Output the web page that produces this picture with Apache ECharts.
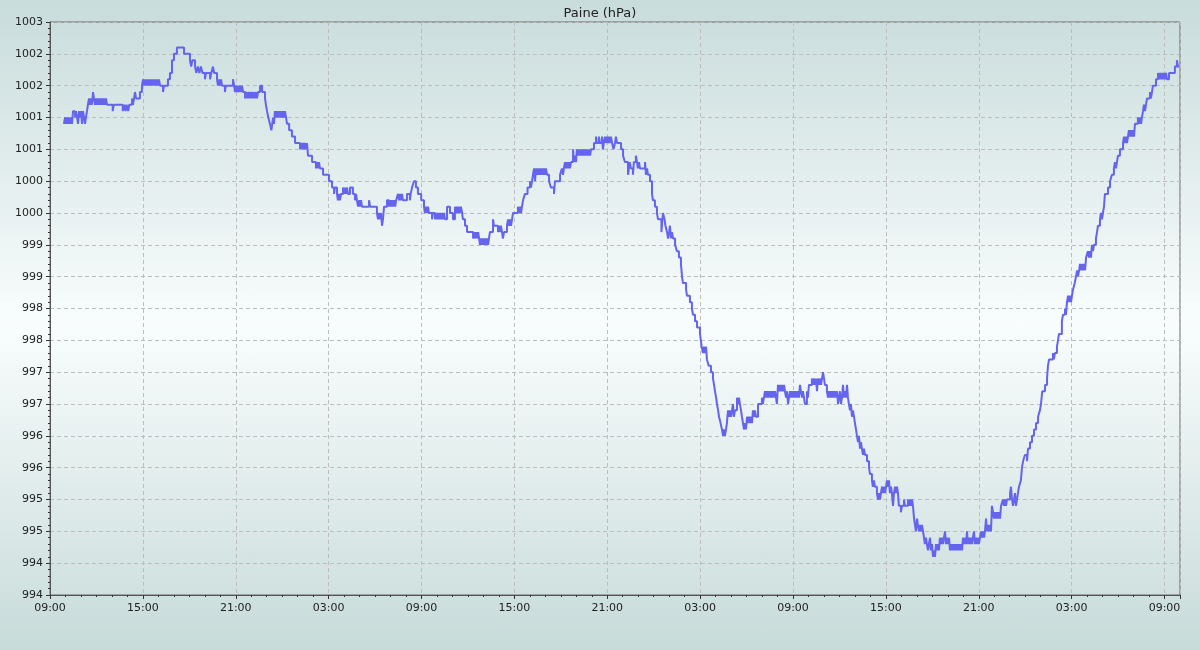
<!DOCTYPE html>
<html>
<head>
<meta charset="utf-8">
<script src="https://cdn.jsdelivr.net/npm/echarts@6/dist/echarts.min.js"></script>
<style>
html,body{margin:0;padding:0;}
body{background:linear-gradient(to bottom,#c8dcdb 0%,#f9fdfd 50%,#c7dbd9 100%);}
#chart{width:1200px;height:650px;}
</style>
</head>
<body>
<div id="chart"></div>
<script>
// Title and tick labels
const chartTitle = 'Paine (hPa)';
const xHourLabels = ['09:00','15:00','21:00','03:00','09:00','15:00','21:00','03:00','09:00','15:00','21:00','03:00','09:00'];

// Series values: [hours since first 09:00, pressure hPa]
const day1 = [
[0.90,1001.4],[0.97,1001.5],[1.03,1001.4],[1.10,1001.5],[1.16,1001.4],[1.23,1001.5],[1.30,1001.4],[1.36,1001.5],[1.42,1001.4],
[1.49,1001.6],[1.62,1001.5],[1.68,1001.6],[1.75,1001.5],[1.81,1001.4],[1.88,1001.6],[1.94,1001.5],[2.00,1001.6],[2.07,1001.4],[2.13,1001.6],[2.20,1001.5],[2.26,1001.4],[2.32,1001.5],
[2.39,1001.6],[2.45,1001.7],[2.52,1001.8],[2.58,1001.7],[2.65,1001.8],[2.71,1001.7],[2.78,1001.9],[2.84,1001.8],[2.91,1001.7],[2.97,1001.8],[3.04,1001.7],[3.10,1001.8],[3.17,1001.7],[3.23,1001.8],[3.30,1001.7],[3.36,1001.8],[3.42,1001.7],[3.49,1001.8],[3.55,1001.7],[3.62,1001.8],
[3.68,1001.7],[4.05,1001.6],[4.12,1001.7],[4.70,1001.6],[4.80,1001.7],[4.88,1001.6],[4.95,1001.7],[5.05,1001.6],[5.12,1001.7],
[5.30,1001.8],[5.36,1001.7],[5.43,1001.8],[5.49,1001.9],[5.56,1001.8],[5.81,1001.9],[5.94,1002.0],
[6.01,1002.1],[6.07,1002.0],[6.14,1002.1],[6.20,1002.0],[6.27,1002.1],[6.33,1002.0],[6.40,1002.1],[6.46,1002.0],[6.53,1002.1],[6.59,1002.0],[6.66,1002.1],[6.72,1002.0],[6.78,1002.1],[6.85,1002.0],[6.91,1002.1],[6.98,1002.0],[7.04,1002.1],[7.11,1002.0],[7.30,1001.9],[7.36,1002.0],
[7.62,1002.1],[7.75,1002.2],[7.88,1002.4],[8.01,1002.5],[8.20,1002.6],[8.66,1002.5],[9.04,1002.4],[9.12,1002.3],[9.20,1002.4],
[9.37,1002.3],[9.45,1002.2],[9.55,1002.3],[9.65,1002.2],[9.75,1002.3],[9.85,1002.2],[10.01,1002.1],[10.08,1002.2],[10.34,1002.1],[10.42,1002.2],[10.53,1002.3],[10.60,1002.2],
[10.79,1002.1],[10.85,1002.0],[10.92,1002.1],[10.98,1002.0],[11.05,1002.1],[11.11,1002.0],[11.30,1001.9],[11.36,1002.0],[11.82,1002.1],[11.90,1002.0],
[11.95,1001.9],[12.02,1002.0],[12.08,1001.9],[12.15,1002.0],[12.21,1001.9],[12.27,1002.0],[12.34,1001.9],[12.40,1002.0],[12.47,1001.9],
[12.60,1001.8],[12.66,1001.9],[12.73,1001.8],[12.79,1001.9],[12.86,1001.8],[12.92,1001.9],[12.99,1001.8],[13.05,1001.9],[13.12,1001.8],[13.18,1001.9],[13.24,1001.8],[13.31,1001.9],[13.37,1001.8],
[13.44,1001.9],[13.57,1002.0],[13.70,1001.9],[13.89,1001.8],[13.95,1001.7],[14.02,1001.6],[14.10,1001.5],[14.21,1001.4],[14.30,1001.3],[14.36,1001.4],[14.41,1001.5],[14.47,1001.4],
[14.53,1001.6],[14.60,1001.5],[14.66,1001.6],[14.73,1001.5],[14.79,1001.6],[14.86,1001.5],[14.92,1001.6],[14.99,1001.5],[15.05,1001.6],[15.12,1001.5],[15.18,1001.6],[15.25,1001.5]
];

const day2 = [
[15.31,1001.4],[15.45,1001.3],[15.63,1001.2],[15.83,1001.1],[16.15,1001.0],[16.22,1001.1],[16.28,1001.0],[16.35,1001.1],[16.41,1001.0],[16.48,1001.1],[16.54,1001.0],[16.60,1001.1],
[16.67,1000.9],[16.93,1000.8],[17.18,1000.7],[17.25,1000.8],[17.31,1000.7],[17.38,1000.8],[17.44,1000.7],
[17.64,1000.6],[18.02,1000.5],[18.22,1000.4],[18.35,1000.3],[18.41,1000.4],[18.54,1000.3],[18.60,1000.2],[18.67,1000.3],[18.73,1000.2],[18.80,1000.3],
[18.93,1000.4],[19.00,1000.3],[19.06,1000.4],[19.12,1000.3],[19.19,1000.4],[19.25,1000.3],[19.38,1000.4],[19.57,1000.3],[19.70,1000.2],[19.77,1000.3],[19.83,1000.2],
[19.90,1000.1],[19.97,1000.2],[20.03,1000.1],[20.09,1000.2],[20.16,1000.1],[20.61,1000.2],[20.68,1000.1],
[21.12,1000.0],[21.19,999.9],[21.25,1000.0],[21.32,999.9],[21.38,1000.0],[21.45,999.8],[21.51,999.9],
[21.58,1000.1],[21.77,1000.2],[21.90,1000.1],[21.97,1000.2],[22.03,1000.1],[22.10,1000.2],[22.16,1000.1],[22.23,1000.2],[22.30,1000.1],[22.36,1000.2],
[22.48,1000.3],[22.55,1000.2],[22.61,1000.3],[22.67,1000.2],[22.74,1000.3],[22.80,1000.2],[23.06,1000.3],[23.25,1000.2],[23.30,1000.3],
[23.39,1000.4],[23.51,1000.5],[23.64,1000.4],[23.77,1000.3],[23.98,1000.2],[24.16,1000.1],[24.22,1000.0],[24.29,1000.1],[24.35,1000.0],[24.42,1000.1],[24.48,1000.0],
[24.68,999.9],[24.74,1000.0],[24.87,999.9],[24.94,1000.0],[25.00,999.9],[25.06,1000.0],[25.13,999.9],[25.19,1000.0],[25.26,999.9],[25.32,1000.0],[25.39,999.9],[25.45,1000.0],[25.52,999.9],
[25.65,1000.1],[25.84,1000.0],[26.03,999.9],[26.16,1000.1],[26.23,1000.0],[26.29,1000.1],[26.36,1000.0],[26.42,1000.1],[26.49,1000.0],[26.55,1000.1],[26.62,1000.0],
[26.68,999.9],[26.81,999.8],[26.94,999.7],[27.33,999.6],[27.40,999.7],[27.46,999.6],[27.53,999.7],[27.59,999.6],[27.66,999.7],[27.72,999.6],
[27.78,999.5],[27.85,999.6],[27.91,999.5],[27.98,999.6],[28.04,999.5],[28.11,999.6],[28.17,999.5],[28.24,999.6],[28.30,999.5],
[28.42,999.7],[28.62,999.9],[28.68,999.8],[28.94,999.7],[29.00,999.8],[29.07,999.7],[29.13,999.8],[29.20,999.7],[29.26,999.6],[29.33,999.7],
[29.52,999.8],[29.59,999.9],[29.65,999.8],[29.72,999.9],[29.78,999.8],[29.85,999.9],
[29.91,1000.0],[30.23,1000.1],[30.30,1000.0],[30.36,1000.1],[30.43,1000.0],[30.49,1000.1],
[30.56,1000.2],[30.68,1000.3],[30.85,1000.4],[31.01,1000.5],[31.07,1000.4],[31.14,1000.5],[31.20,1000.6],
[31.27,1000.7],[31.33,1000.5],[31.40,1000.7],[31.46,1000.6],[31.52,1000.7],[31.59,1000.6],[31.65,1000.7],[31.72,1000.6],[31.78,1000.7],[31.85,1000.6],[31.91,1000.7],[31.98,1000.6],[32.04,1000.7],[32.11,1000.6],
[32.24,1000.5],[32.36,1000.4],[32.56,1000.3],[32.62,1000.5],[32.95,1000.6],
[33.07,1000.7],[33.14,1000.6],[33.20,1000.7],
[33.27,1000.8],[33.33,1000.7],[33.40,1000.8],[33.46,1000.7],[33.53,1000.8],[33.59,1000.7],[33.66,1000.8],
[33.79,1001.0],[33.85,1000.8],[33.92,1000.9],[33.98,1000.8],
[34.04,1001.0],[34.11,1000.9],[34.17,1001.0],[34.24,1000.9],[34.30,1001.0],[34.37,1000.9],[34.43,1001.0],[34.50,1000.9],[34.56,1001.0],[34.63,1000.9],[34.69,1001.0],[34.76,1000.9],[34.82,1001.0],[34.89,1000.9],[34.95,1001.0],
[35.14,1001.1],[35.27,1001.2],[35.33,1001.1],[35.46,1001.2],[35.53,1001.1],[35.66,1001.2],[35.72,1001.0],[35.78,1001.1],
[35.85,1001.2],[35.91,1001.1],[35.98,1001.2],[36.05,1001.1],[36.11,1001.2],[36.18,1001.1],[36.24,1001.2],[36.31,1001.1],
[36.40,1001.0],[36.50,1001.1],[36.56,1001.2],[36.63,1001.1],
[36.89,1001.0],[37.02,1000.9],[37.14,1000.8],[37.34,1000.6],[37.45,1000.8],[37.53,1000.7],[37.66,1000.6],[37.72,1000.8],[37.85,1000.9],[37.92,1000.8],[37.98,1000.7],[38.05,1000.8],[38.11,1000.7],
[38.44,1000.8],[38.50,1000.6],[38.57,1000.7],[38.63,1000.6],
[38.76,1000.5],[38.89,1000.3],[38.95,1000.2],[39.08,1000.1],[39.21,1000.0]
];

const day3 = [
[39.28,999.9],[39.50,999.7],[39.56,999.9],[39.60,1000.0],[39.70,999.9],[39.76,999.8],[39.86,999.7],[39.93,999.6],[40.00,999.7],[40.05,999.8],[40.12,999.6],[40.18,999.7],[40.25,999.6],
[40.38,999.5],[40.50,999.4],[40.63,999.3],[40.76,999.2],[40.83,999.0],[40.89,998.9],[41.09,998.8],[41.15,998.7],[41.34,998.6],[41.47,998.5],[41.54,998.4],[41.67,998.3],[41.80,998.2],[41.99,998.1],
[42.10,997.9],[42.18,997.8],[42.25,997.9],[42.31,997.8],[42.38,997.9],[42.44,997.7],[42.55,997.6],[42.70,997.5],[42.83,997.4],[42.90,997.3],[42.96,997.2],[43.03,997.1],[43.09,997.0],[43.16,996.9],[43.22,996.8],[43.32,996.7],[43.41,996.6],[43.48,996.5],[43.54,996.6],[43.60,996.5],[43.67,996.6],
[43.73,996.7],[43.80,996.9],[43.86,996.8],[43.93,996.9],[44.00,996.8],[44.06,996.9],[44.12,997.0],[44.18,996.8],[44.25,996.9],[44.38,997.1],[44.44,997.0],[44.51,997.1],[44.57,997.0],
[44.64,996.9],[44.70,996.8],[44.77,996.7],[44.83,996.6],[44.90,996.7],[44.96,996.6],
[45.03,996.8],[45.09,996.7],[45.16,996.8],[45.22,996.7],[45.29,996.8],[45.35,996.7],
[45.41,996.9],[45.48,996.8],[45.54,996.9],[45.61,996.8],[45.74,997.0],[45.99,997.1],[46.05,997.0],[46.12,997.1],
[46.19,997.2],[46.25,997.1],[46.32,997.2],[46.38,997.1],[46.45,997.2],[46.51,997.1],[46.58,997.2],[46.64,997.1],[46.71,997.2],[46.77,997.1],[46.84,997.2],[46.90,997.1],[46.96,997.0],
[47.03,997.3],[47.09,997.2],[47.16,997.3],[47.22,997.2],[47.29,997.3],[47.35,997.2],[47.42,997.3],
[47.48,997.2],[47.55,997.1],[47.61,997.2],[47.68,997.0],[47.74,997.1],[47.80,997.2],[47.87,997.1],[47.93,997.2],[48.00,997.1],[48.06,997.2],[48.13,997.1],[48.19,997.2],[48.26,997.1],[48.32,997.2],[48.38,997.1],[48.45,997.3],[48.51,997.2],[48.58,997.1],[48.64,997.2],[48.71,997.1],
[48.77,997.0],[48.90,997.2],[48.96,997.1],
[49.03,997.3],[49.22,997.4],[49.29,997.3],[49.35,997.4],[49.42,997.3],[49.48,997.4],[49.55,997.2],[49.61,997.4],[49.68,997.3],[49.74,997.4],[49.81,997.3],[49.87,997.4],
[49.94,997.5],[50.06,997.3],[50.19,997.2],[50.26,997.1],[50.32,997.2],[50.39,997.1],[50.45,997.2],[50.52,997.1],[50.58,997.2],[50.65,997.1],[50.71,997.2],[50.78,997.1],[50.84,997.2],[50.91,997.0],[50.97,997.1],[51.03,997.2],[51.10,997.0],[51.16,997.1],[51.23,997.3],[51.29,997.1],[51.36,997.2],[51.42,997.1],
[51.49,997.3],[51.55,997.1],[51.61,997.0],[51.68,996.9],[51.74,997.0],[51.81,996.8],[51.87,996.9],[51.94,996.8],[52.00,996.7],[52.07,996.6],[52.13,996.5],[52.20,996.4],[52.26,996.5],[52.33,996.3],[52.39,996.4],
[52.45,996.3],[52.52,996.2],[52.58,996.3],[52.65,996.2],[52.78,996.1],[52.91,996.0],[52.97,995.9],[53.10,995.8],[53.16,995.7],[53.23,995.8],[53.29,995.7],[53.42,995.6],[53.49,995.5],[53.55,995.6],[53.62,995.5],[53.68,995.6],
[53.75,995.7],[53.81,995.6],[53.88,995.7],[53.94,995.6],[54.01,995.7],[54.07,995.8],[54.13,995.7],[54.20,995.8],[54.26,995.6],[54.33,995.7],[54.39,995.6],
[54.46,995.4],[54.52,995.6],[54.59,995.7],[54.65,995.6],[54.72,995.7],[54.78,995.6],
[54.84,995.4],[54.97,995.3],[55.04,995.4],[55.17,995.5],[55.23,995.4],
[55.43,995.5],[55.49,995.4],[55.56,995.5],[55.62,995.4],[55.69,995.5],
[55.75,995.4],[55.82,995.2],[55.94,995.0],[56.01,995.2],[56.07,995.1],[56.14,995.0],[56.20,995.1],[56.27,995.0],[56.33,995.1],[56.40,995.0],[56.46,994.9],[56.52,994.8],[56.59,994.9],[56.65,994.8],[56.72,994.7],[56.78,994.8],[56.85,994.9],[56.91,994.7],
[56.98,994.8],[57.04,994.6],[57.11,994.7],[57.17,994.6],[57.24,994.8],[57.30,994.7],[57.36,994.8],[57.43,994.7],
[57.49,994.9],[57.56,994.8],[57.62,994.9],[57.69,994.8],[57.75,994.9],[57.82,995.0],[57.88,994.8],[57.95,994.9],[58.01,994.8],[58.08,994.9],
[58.14,994.7],[58.21,994.8],[58.27,994.7],[58.34,994.8],[58.40,994.7],[58.46,994.8],[58.53,994.7],[58.59,994.8],[58.66,994.7],[58.72,994.8],[58.79,994.7],[58.85,994.8],[58.92,994.7],
[58.98,994.9],[59.05,994.8],[59.11,994.9],[59.18,994.8],[59.24,995.0],[59.30,994.8],[59.37,994.9],[59.43,994.8],[59.50,994.9],[59.56,994.8],[59.62,994.9],[59.69,995.0],[59.75,994.8],[59.82,994.9],[59.88,994.8],[59.95,994.9],[60.01,994.8],[60.08,994.9],[60.14,995.0],[60.21,994.9],
[60.27,995.0],[60.34,994.9],[60.40,995.0],[60.47,995.2],[60.53,995.0],[60.59,995.1],[60.66,995.0],[60.72,995.1],[60.79,995.0],[60.85,995.4],[60.92,995.3],[60.98,995.2],[61.05,995.3],[61.11,995.2],[61.18,995.3],[61.24,995.2],[61.31,995.3],[61.37,995.2],[61.44,995.4],
[61.56,995.5],[61.63,995.4],[61.69,995.5],[61.76,995.4],[61.82,995.5],[62.02,995.6],[62.08,995.7],[62.15,995.5],[62.21,995.4],[62.28,995.5],[62.34,995.6],[62.40,995.4],[62.47,995.5],[62.53,995.6]
];

const day4 = [
[62.60,995.7],[62.72,995.8],[62.79,996.0],[62.86,996.1],[62.98,996.2],[63.12,996.1],[63.18,996.3],[63.31,996.4],[63.44,996.5],[63.57,996.6],[63.70,996.7],[63.83,996.8],[63.95,996.9],[64.02,997.0],[64.10,997.2],[64.28,997.3],[64.41,997.4],[64.47,997.6],[64.54,997.7],[64.79,997.8],[64.85,997.7],[64.92,997.8],[65.05,997.9],[65.12,998.0],[65.18,998.1],[65.37,998.3],[65.44,998.4],[65.57,998.5],[65.63,998.4],
[65.70,998.6],[65.77,998.7],[65.83,998.6],[65.89,998.7],[65.96,998.6],[66.02,998.7],
[66.09,998.8],[66.20,998.9],[66.28,999.0],[66.35,999.1],[66.41,999.0],[66.48,999.1],
[66.54,999.2],[66.61,999.1],[66.67,999.2],[66.74,999.1],[66.80,999.2],[66.87,999.1],
[66.93,999.3],[67.05,999.4],[67.12,999.3],[67.18,999.4],[67.25,999.3],[67.31,999.5],[67.38,999.4],[67.44,999.5],[67.57,999.6],[67.64,999.7],[67.70,999.8],[67.83,999.9],
[67.89,1000.0],[67.96,999.9],[68.02,1000.0],[68.09,1000.1],[68.15,1000.3],[68.35,1000.4],[68.48,1000.5],[68.60,1000.6],[68.73,1000.7],[68.80,1000.8],[68.86,1000.7],[68.93,1000.8],[68.99,1000.9],[69.12,1001.0],[69.32,1001.1],
[69.38,1001.2],[69.45,1001.1],[69.51,1001.2],[69.57,1001.1],[69.64,1001.2],
[69.70,1001.3],[69.77,1001.2],[69.83,1001.3],[69.90,1001.2],[69.96,1001.3],[70.03,1001.2],
[70.09,1001.4],[70.28,1001.5],[70.35,1001.4],[70.41,1001.5],[70.48,1001.4],[70.54,1001.5],[70.61,1001.6],
[70.67,1001.7],[70.74,1001.6],[70.80,1001.7],[70.87,1001.8],
[71.06,1001.9],[71.12,1001.8],[71.19,1001.9],[71.25,1002.0],[71.45,1002.1],[71.58,1002.2],
[71.64,1002.1],[71.71,1002.2],[71.77,1002.1],[71.84,1002.2],[71.90,1002.1],[71.97,1002.2],[72.03,1002.1],[72.10,1002.2],
[72.16,1002.1],[72.29,1002.2],[72.67,1002.3],[72.80,1002.4],[72.87,1002.3],[72.95,1002.3]
];

const pressure = [].concat(day1, day2, day3, day4);

const chart = echarts.init(document.getElementById('chart'), null, {renderer: 'canvas'});
const font = 'DejaVu Sans';
chart.setOption({
  animation: false,
  backgroundColor: 'transparent',
  title: {
    text: chartTitle, left: 'center', top: 2,
    textStyle: {fontFamily: font, fontSize: 13, fontWeight: 'normal', color: '#222'}
  },
  grid: {left: 50, top: 22, right: 20, bottom: 55, show: true, borderColor: '#666', borderWidth: 1, backgroundColor: 'transparent'},
  xAxis: {
    type: 'value', min: 0, max: 73, interval: 6,
    axisLine: {lineStyle: {color: '#555', width: 1}},
    axisTick: {show: true, inside: false, length: 4, lineStyle: {color: '#333'}},
    minorTick: {show: true, splitNumber: 6, length: 2, lineStyle: {color: '#333'}},
    axisLabel: {
      fontFamily: font, fontSize: 11, color: '#222', margin: 8, showMaxLabel: false,
      formatter: function (v) { const i = Math.round(v / 6); return xHourLabels[i] !== undefined && Math.abs(v - i * 6) < 1e-6 ? xHourLabels[i] : ''; }
    },
    splitLine: {show: true, lineStyle: {color: '#bdbdbd', type: [4, 3], width: 1}}
  },
  yAxis: {
    type: 'value', min: 994, max: 1003, interval: 0.5,
    axisLine: {show: true, lineStyle: {color: '#555', width: 1}},
    axisTick: {show: true, inside: false, length: 4, lineStyle: {color: '#333'}},
    minorTick: {show: true, splitNumber: 5, length: 2, lineStyle: {color: '#333'}},
    axisLabel: {fontFamily: font, fontSize: 11, color: '#222', margin: 7, formatter: function (v) { return String(Math.floor(v + 1e-9)); }},
    splitLine: {show: true, lineStyle: {color: '#bdbdbd', type: [4, 3], width: 1}}
  },
  series: [{
    type: 'line', data: pressure, step: 'end', showSymbol: false, symbol: 'none',
    lineStyle: {color: '#6464ee', width: 2}, itemStyle: {color: '#6464ee'}
  }]
});
</script>
</body>
</html>
